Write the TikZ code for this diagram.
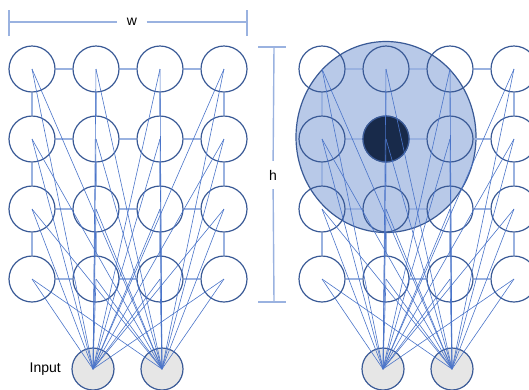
\documentclass[tikz,border=0pt]{standalone}
\usepackage{fontspec}
\setmainfont{Liberation Sans}
\usetikzlibrary{shapes.geometric}

\definecolor{nodeblue}{HTML}{3A5A96}
\definecolor{gridblue}{HTML}{9AB2E0}
\definecolor{linkblue}{HTML}{4A74C9}
\definecolor{fieldfill}{HTML}{B8C9E8}
\definecolor{darkunit}{HTML}{182A4A}
\definecolor{inputgray}{HTML}{E6E6E6}

\tikzset{
  unit/.style={circle, draw=nodeblue, line width=1.2pt, minimum size=46pt, inner sep=0pt},
  inputunit/.style={circle, draw=nodeblue, fill=inputgray, line width=1.2pt, minimum size=42pt, inner sep=0pt},
  gridline/.style={draw=gridblue, line width=1.6pt},
  link/.style={draw=linkblue, line width=0.6pt},
  dimline/.style={draw=gridblue, line width=1.4pt},
  lbl/.style={font=\fontsize{14pt}{16pt}\selectfont, text=black, inner sep=0pt},
}

\begin{document}
\begin{tikzpicture}[x=1pt, y=-1pt]
\useasboundingbox (0,0) rectangle (529,389);
\clip (0,0) rectangle (529,389);

% receptive field around the highlighted unit
\node (field) [ellipse, draw=nodeblue, fill=fieldfill, line width=1.2pt,
  minimum width=180pt, minimum height=191pt, inner sep=0pt] at (386,137) {};

% two 4x4 layers of units
\foreach \side/\xo in {L/0, R/290} {
  \foreach \c in {1,...,4} {
    \foreach \r in {1,...,4} {
      \node (\side-\c-\r) [unit] at ({\xo+32+64*(\c-1)}, {69+70*(\r-1)}) {};
    }
  }
}
\node (hot) [unit, fill=darkunit] at (R-2-2) {};

% lattice connections between neighbouring units
\foreach \side in {L, R} {
  \foreach \r in {1,...,4} {
    \foreach \c/\n in {1/2, 2/3, 3/4} {
      \draw[gridline] (\side-\c-\r) -- (\side-\n-\r);
    }
  }
  \foreach \c in {1,...,4} {
    \foreach \r/\n in {1/2, 2/3, 3/4} {
      \draw[gridline] (\side-\c-\r) -- (\side-\c-\n);
    }
  }
}

% input units
\node (L-in1) [inputunit] at (93,369) {};
\node (L-in2) [inputunit] at (162,369) {};
\node (R-in1) [inputunit] at (383,369) {};
\node (R-in2) [inputunit] at (452,369) {};
\node (inlabel) [lbl, anchor=east] at (61,369) {Input};

% every unit is fed by both inputs
\foreach \side in {L, R} {
  \foreach \c in {1,...,4} {
    \foreach \r in {1,...,4} {
      \draw[link] (\side-\c-\r.center) -- (\side-in1.center);
      \draw[link] (\side-\c-\r.center) -- (\side-in2.center);
    }
  }
}

% width marker
\coordinate (wA) at (9,22);
\coordinate (wB) at (247,22);
\node (wlab) [lbl, minimum width=29pt] at (132,22) {w};
\draw[dimline] (wA) -- (wlab);
\draw[dimline] (wlab) -- (wB);
\draw[dimline] ([yshift=-14pt]wA) -- ([yshift=12pt]wA);
\draw[dimline] ([yshift=-14pt]wB) -- ([yshift=12pt]wB);

% height marker
\coordinate (hA) at (274,47);
\coordinate (hB) at (274,302);
\node (hlab) [lbl, minimum height=28pt] at (273,175) {h};
\draw[dimline] (hA) -- (hlab);
\draw[dimline] (hlab) -- (hB);
\draw[dimline] ([xshift=-16pt]hA) -- ([xshift=12pt]hA);
\draw[dimline] ([xshift=-16pt]hB) -- ([xshift=12pt]hB);
\end{tikzpicture}
\end{document}
